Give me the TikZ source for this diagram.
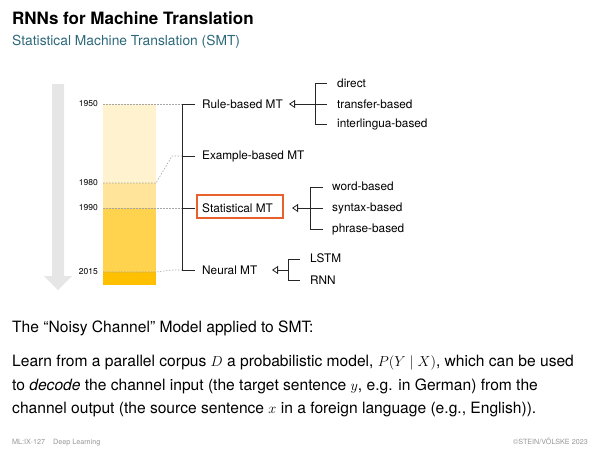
\documentclass[tikz,border=0pt]{standalone}
\usepackage{fontspec}
\setmainfont{TeX Gyre Heros}
\usetikzlibrary{arrows.meta}
\definecolor{subcol}{RGB}{44,104,122}
\definecolor{boxorange}{RGB}{232,97,44}
\definecolor{barA}{RGB}{255,243,207}
\definecolor{barB}{RGB}{255,228,153}
\definecolor{barC}{RGB}{255,211,77}
\definecolor{barD}{RGB}{255,192,0}
\definecolor{arrowgray}{RGB}{230,230,230}
\definecolor{footgray}{RGB}{150,150,150}
\tikzset{
  lbl/.style={anchor=west, inner sep=0pt, font=\fontsize{11.8}{13}\selectfont},
  yr/.style={anchor=east, inner sep=0pt, font=\fontsize{8.5}{10}\selectfont},
  guide/.style={draw=gray!70, dashed, dash pattern=on 1.5pt off 1.5pt, line width=0.6pt},
  brk/.style={draw=black!85, line width=0.8pt},
  opentip/.style={brk, -{Triangle[open, length=6pt, width=8pt, line width=0.8pt]}},
  bodytxt/.style={anchor=base west, inner sep=0pt, font=\fontsize{15.6}{18}\selectfont},
  foot/.style={inner sep=0pt, text=footgray, font=\fontsize{7.2}{8}\selectfont},
}
\begin{document}
\begin{tikzpicture}[x=1pt, y=-1pt]
\useasboundingbox (0,0) rectangle (600,450);
% title
\node[anchor=base west, inner sep=0pt, font=\fontsize{17}{20}\selectfont\bfseries] (title) at (12,24) {RNNs for Machine Translation};
\node[anchor=base west, inner sep=0pt, text=subcol, font=\fontsize{13.8}{16}\selectfont] (subtitle) at (12,45) {Statistical Machine Translation (SMT)};
% gray time arrow
\fill[arrowgray] (52,84) -- (64,84) -- (64,276) -- (72,276) -- (58,290) -- (44,276) -- (52,276) -- cycle;
% bars
\fill[barA] (103,104) rectangle (156,183);
\fill[barB] (103,183) rectangle (156,208);
\fill[barC] (103,208) rectangle (156,272);
\fill[barD] (103,272) rectangle (156,285);
% years
\node[yr] (y1950) at (98,104) {1950};
\node[yr] (y1980) at (98,183) {1980};
\node[yr] (y1990) at (98,208) {1990};
\node[yr] (y2015) at (98,272) {2015};
% main bracket coordinates
\coordinate (b1) at (182,104);
\coordinate (b2) at (182,156);
\coordinate (b3) at (182,208);
\coordinate (b4) at (182,270);
% guides
\draw[guide] (103,104) -- (b1);
\draw[guide] (103,183) -- (156,183) -- (172,156) -- (b2);
\draw[guide] (103,208) -- (b3);
\draw[guide] (103,272) -- (156,272) -- (172,270) -- (b4);
% main labels
\node[lbl] (rule) at (202,104) {Rule-based MT};
\node[lbl] (example) at (202,156) {Example-based MT};
\node[lbl] (stat) at (202,208) {Statistical MT};
\node[draw=boxorange, line width=1.3pt, minimum width=86pt, minimum height=23pt, inner sep=0pt] (statbox) at (240,206.5) {};
\node[lbl] (neural) at (202,270) {Neural MT};
% main bracket
\draw[brk] (b1) -- (b4);
\draw[brk] (b1) -- ++(13,0);
\draw[brk] (b2) -- ++(13,0);
\draw[brk] (b3) -- ++(13,0);
\draw[brk] (b4) -- ++(13,0);
% rule-based sub
\coordinate (rtip) at (289,104);
\coordinate (rv1) at (315,83);
\coordinate (rv2) at (315,104);
\coordinate (rv3) at (315,124);
\draw[opentip] (rv2) -- (rtip);
\draw[brk] (rv1) -- (rv3);
\node[lbl] (direct) at (337,83) {direct};
\node[lbl] (transfer) at (337,104) {transfer-based};
\node[lbl] (inter) at (337,124) {interlingua-based};
\draw[brk] (rv1) -- ++(12,0);
\draw[brk] (rv2) -- ++(12,0);
\draw[brk] (rv3) -- ++(12,0);
% statistical sub
\coordinate (stip) at (292,208);
\coordinate (sv1) at (310,187);
\coordinate (sv2) at (310,208);
\coordinate (sv3) at (310,229);
\draw[opentip] (sv2) -- (stip);
\draw[brk] (sv1) -- (sv3);
\node[lbl] (word) at (332,186) {word-based};
\node[lbl] (syntax) at (332,208) {syntax-based};
\node[lbl] (phrase) at (332,229) {phrase-based};
\draw[brk] (sv1) -- ++(13,0);
\draw[brk] (sv2) -- ++(13,0);
\draw[brk] (sv3) -- ++(13,0);
% neural sub
\coordinate (ntip) at (272,270);
\coordinate (nv1) at (288,259);
\coordinate (nv2) at (288,270);
\coordinate (nv3) at (288,280);
\draw[opentip] (nv2) -- (ntip);
\draw[brk] (nv1) -- (nv3);
\node[lbl] (lstm) at (310,258) {LSTM};
\node[lbl] (rnn) at (310,280) {RNN};
\draw[brk] (nv1) -- ++(12,0);
\draw[brk] (nv3) -- ++(12,0);
% body text
\node[bodytxt] (noisy) at (12,332) {The “Noisy Channel” Model applied to SMT:};
\node[bodytxt] (body1) at (12,366) {Learn from a parallel corpus $D$ a probabilistic model, $P(Y\mid X)$, which can be used};
\node[bodytxt] (body2) at (12,390) {to \emph{decode} the channel input (the target sentence $y$, e.g. in German) from the};
\node[bodytxt] (body3) at (12,413) {channel output (the source sentence $x$ in a foreign language (e.g., English)).};
% footer
\node[foot, anchor=base west] (footl) at (12,444) {ML:IX-127\hspace{8pt}Deep Learning};
\node[foot, anchor=base east] (footr) at (588,444) {©STEIN/VÖLSKE 2023};
\end{tikzpicture}
\end{document}
